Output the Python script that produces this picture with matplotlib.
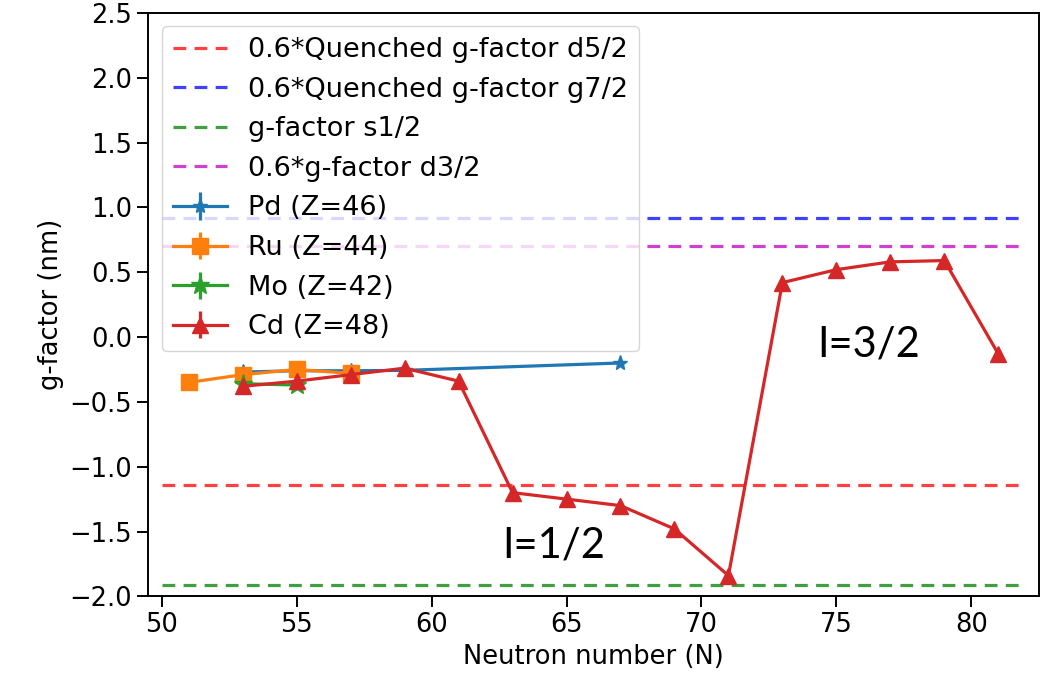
import numpy as np
import matplotlib.pyplot as plt

# neutron numbers and measured g-factors
n_pd = [53, 55, 57, 59, 67]
g_pd = [-0.27, -0.26, -0.26, -0.257, -0.2]
e_pd = [0.01, 0.01, 0.01, 0.01, 0.01]

n_ru = [51, 53, 55, 57]
g_ru = [-0.35, -0.29, -0.25, -0.28]
e_ru = [0.01, 0.01, 0.01, 0.01]

n_mo = [53, 55]
g_mo = [-0.36, -0.37]
e_mo = [0.01, 0.01]

n_cd = [53, 55, 57, 59, 61, 63, 65, 67, 69, 71, 73, 75, 77, 79, 81]
g_cd = [-0.38, -0.34, -0.29, -0.24, -0.34, -1.20, -1.25, -1.30, -1.48, -1.84,
        0.42, 0.52, 0.58, 0.59, -0.13]
e_cd = [0.01] * len(n_cd)

# single-particle reference values
g_d52 = -1.14
g_g72 = 0.92
g_s12 = -1.91
g_d32 = 0.70

plt.rcParams['font.size'] = 18.5
fig, ax = plt.subplots(figsize=(10.44, 6.8), dpi=100)
fig.subplots_adjust(left=0.142, right=0.995, top=0.981, bottom=0.123)

lw = 2.3
dash = (0, (4, 2.6))
ax.hlines(g_d52, 50, 82, colors='r', linestyles=dash, lw=lw, alpha=0.75,
          label='0.6*Quenched g-factor d5/2')
ax.hlines(g_g72, 50, 82, colors='b', linestyles=dash, lw=lw, alpha=0.75,
          label='0.6*Quenched g-factor g7/2')
ax.hlines(g_s12, 50, 82, colors='g', linestyles=dash, lw=lw, alpha=0.75,
          label='g-factor s1/2')
ax.hlines(g_d32, 50, 82, colors='m', linestyles=dash, lw=lw, alpha=0.75,
          label='0.6*g-factor d3/2')

ax.errorbar(n_pd, g_pd, yerr=e_pd, marker='*', ms=11, lw=lw, label='Pd (Z=46)')
ax.errorbar(n_ru, g_ru, yerr=e_ru, marker='s', ms=12, lw=lw, label='Ru (Z=44)')
ax.errorbar(n_mo, g_mo, yerr=e_mo, marker='*', ms=14, lw=lw, label='Mo (Z=42)')
ax.errorbar(n_cd, g_cd, yerr=e_cd, marker='^', ms=12, lw=lw, label='Cd (Z=48)')

ax.text(74.3, -0.15, 'I=3/2', fontsize=30, family='Lato', color='black')
ax.text(62.6, -1.70, 'I=1/2', fontsize=30, family='Lato', color='black')

ax.set_xlim(49.5, 82.5)
ax.set_ylim(-2.0, 2.5)
ax.set_xticks([50, 55, 60, 65, 70, 75, 80])
ax.set_yticks(np.arange(-2.0, 2.51, 0.5))
ax.tick_params(length=8, width=1.4)
for s in ax.spines.values():
    s.set_linewidth(1.4)
ax.set_xlabel('Neutron number (N)')
ax.set_ylabel('g-factor (nm)')
ax.legend(loc='upper left', fontsize=19.5, labelspacing=0.5)

fig.savefig('out.png')
